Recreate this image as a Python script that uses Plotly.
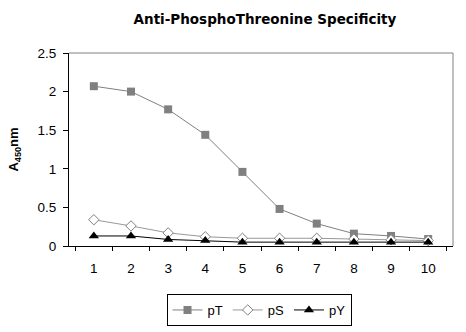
import plotly.graph_objects as go

categories = ["1", "2", "3", "4", "5", "6", "7", "8", "9", "10"]
pT = [2.07, 2.00, 1.77, 1.44, 0.96, 0.48, 0.29, 0.16, 0.13, 0.09]
pS = [0.34, 0.26, 0.17, 0.12, 0.10, 0.10, 0.10, 0.09, 0.08, 0.07]
pY = [0.13, 0.13, 0.085, 0.07, 0.05, 0.05, 0.05, 0.05, 0.05, 0.05]

font = "Liberation Sans, Arial, sans-serif"

fig = go.Figure()
fig.add_trace(go.Scatter(x=categories, y=pT, name="pT", mode="lines+markers",
                         line=dict(color="#808080", width=1),
                         marker=dict(symbol="square", size=8, color="#808080")))
fig.add_trace(go.Scatter(x=categories, y=pS, name="pS", mode="lines+markers",
                         line=dict(color="#999999", width=1),
                         marker=dict(symbol="diamond", size=8, color="white",
                                     line=dict(color="#808080", width=1))))
fig.add_trace(go.Scatter(x=categories, y=pY, name="pY", mode="lines+markers",
                         line=dict(color="black", width=1),
                         marker=dict(symbol="triangle-up", size=9, color="black")))

fig.update_layout(
    width=466, height=332,
    margin=dict(l=69, r=13, t=53, b=86, autoexpand=False),
    paper_bgcolor="white", plot_bgcolor="white",
    font=dict(family=font, size=13, color="black"),
    title=dict(text="<b>Anti-PhosphoThreonine Specificity</b>", x=265/466, xanchor="center",
               y=1 - 19/332, yanchor="middle",
               font=dict(size=13.5, family="DejaVu Sans, sans-serif")),
    showlegend=True,
    legend=dict(orientation="h", x=259/466, xanchor="center", xref="container",
                y=1 - 294/332, yanchor="top", yref="container",
                bordercolor="black", borderwidth=1, font=dict(size=13),
                itemwidth=30, tracegroupgap=0),
    xaxis=dict(type="category", tickson="boundaries", ticks="outside", ticklen=4,
               tickcolor="black", showline=True, linecolor="black", linewidth=1,
               showgrid=False, zeroline=False, tickfont=dict(size=13.5),
               ticklabelstandoff=10),
    yaxis=dict(range=[0, 2.5], dtick=0.5, ticks="outside", ticklen=5, tickcolor="black",
               showline=True, linecolor="black", linewidth=1, showgrid=False,
               zeroline=False, tickfont=dict(size=13.5), ticklabelstandoff=4,
               title=dict(text="<b>A<sub>450</sub>nm</b>", font=dict(size=13), standoff=15)),
    shapes=[dict(type="line", xref="x domain", yref="y domain", x0=0, x1=1, y0=1, y1=1,
                 line=dict(color="#808080", width=1)),
            dict(type="line", xref="x domain", yref="y domain", x0=1, x1=1, y0=0, y1=1,
                 line=dict(color="#808080", width=1))],
)

fig.write_html("out.html")
